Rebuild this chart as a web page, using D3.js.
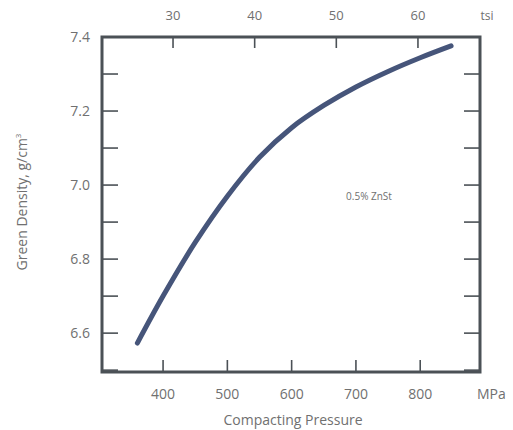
<!DOCTYPE html>
<meta charset="utf-8">
<style>
body { margin: 0; background: #fff; }
svg text { font-family: "Open Sans", sans-serif; fill: #707070; }
.frame { fill: none; stroke: #4b5156; stroke-width: 3px; }
.tick line { stroke: #4b5156; stroke-width: 1.6px; }
.curve { fill: none; stroke: #46557a; stroke-width: 5px; stroke-linecap: round; }
</style>
<svg width="513" height="430"></svg>
<script src="https://d3js.org/d3.v7.min.js"></script>
<script>
// values
var pressure = [360, 400, 450, 500, 550, 600, 650, 700, 750, 800, 848];
var density  = [6.573, 6.70, 6.845, 6.97, 7.075, 7.155, 7.215, 7.265, 7.307, 7.344, 7.376];
var mpaTicks = [400, 500, 600, 700, 800];
var tsiTicks = [30, 40, 50, 60];
var densTicks = [6.6, 6.8, 7.0, 7.2, 7.4];
var densMinor = [6.5, 6.6, 6.7, 6.8, 6.9, 7.0, 7.1, 7.2, 7.3];

var svg = d3.select("svg"),
    pL = 102, pR = 480, pT = 37, pB = 372;

var x = d3.scaleLinear().domain([305, 893]).range([pL, pR]);
var xt = d3.scaleLinear().domain([21.3, 67.6]).range([pL, pR]);
var y = d3.scaleLinear().domain([6.495, 7.4]).range([pB, pT]);

// ticks (inward)
var g = svg.append("g");
g.selectAll(".l").data(densMinor).enter().append("g").attr("class", "tick")
  .append("line").attr("x1", pL).attr("x2", pL + 16)
  .attr("y1", function(d) { return y(d); }).attr("y2", function(d) { return y(d); });
g.selectAll(".r").data(densMinor).enter().append("g").attr("class", "tick")
  .append("line").attr("x1", pR).attr("x2", pR - 16)
  .attr("y1", function(d) { return y(d); }).attr("y2", function(d) { return y(d); });
g.selectAll(".b").data(mpaTicks).enter().append("g").attr("class", "tick")
  .append("line").attr("y1", pB).attr("y2", pB - 12)
  .attr("x1", function(d) { return x(d); }).attr("x2", function(d) { return x(d); });
g.selectAll(".t").data(tsiTicks).enter().append("g").attr("class", "tick")
  .append("line").attr("y1", pT).attr("y2", pT + 11)
  .attr("x1", function(d) { return xt(d); }).attr("x2", function(d) { return xt(d); });

svg.append("rect").attr("class", "frame")
  .attr("x", pL).attr("y", pT).attr("width", pR - pL).attr("height", pB - pT);

// tick labels
svg.selectAll(".yl").data(densTicks).enter().append("text")
  .attr("x", 90).attr("y", function(d) { return y(d) + 5; })
  .attr("text-anchor", "end").style("font-size", "14px")
  .text(function(d) { return d.toFixed(1); });
svg.selectAll(".xl").data(mpaTicks).enter().append("text")
  .attr("x", function(d) { return x(d); }).attr("y", 399)
  .attr("text-anchor", "middle").style("font-size", "14px")
  .text(function(d) { return d; });
svg.selectAll(".tl").data(tsiTicks).enter().append("text")
  .attr("x", function(d) { return xt(d); }).attr("y", 20)
  .attr("text-anchor", "middle").style("font-size", "13px")
  .text(function(d) { return d; });

svg.append("text").attr("x", 477).attr("y", 399).style("font-size", "14px").text("MPa");
svg.append("text").attr("x", 487).attr("y", 20).attr("text-anchor", "middle")
  .style("font-size", "12px").text("tsi");
svg.append("text").attr("x", 293).attr("y", 425).attr("text-anchor", "middle")
  .style("font-size", "14px").text("Compacting Pressure");
svg.append("text").attr("transform", "translate(27,202) rotate(-90)")
  .attr("text-anchor", "middle").style("font-size", "14px")
  .html('Green Density, g/cm<tspan dy="-6" font-size="8">3</tspan>');
svg.append("text").attr("x", 369).attr("y", 200).attr("text-anchor", "middle")
  .style("font-size", "10px").text("0.5% ZnSt");

// curve
var pts = pressure.map(function(p, i) { return [p, density[i]]; });
svg.append("path").attr("class", "curve")
  .attr("d", d3.line().curve(d3.curveCatmullRom)
    .x(function(d) { return x(d[0]); }).y(function(d) { return y(d[1]); })(pts));
</script>
